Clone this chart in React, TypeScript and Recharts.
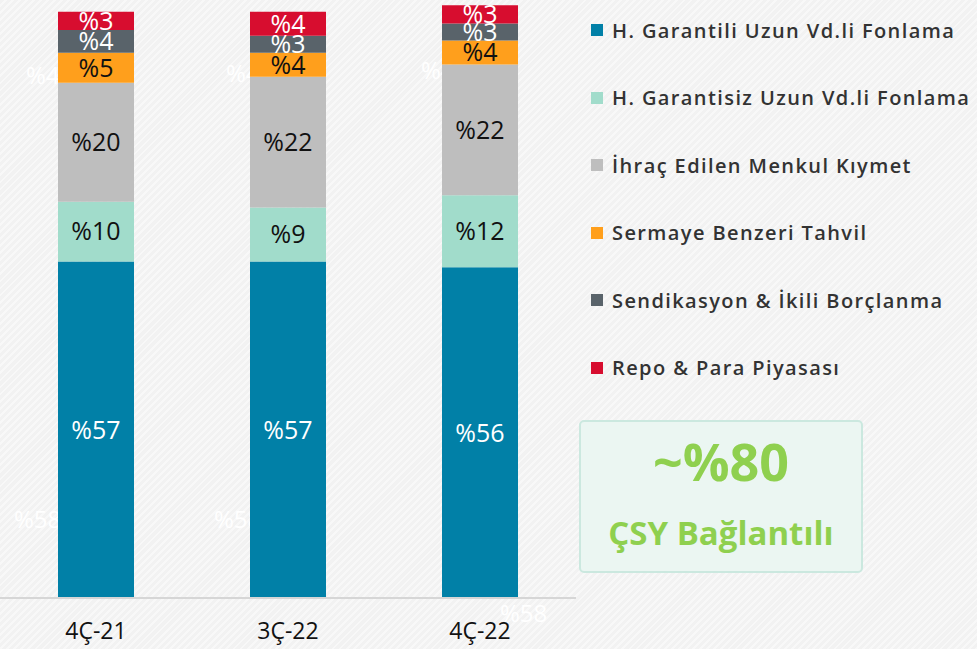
import React from "react";
import { Bar, BarChart, LabelList, XAxis, YAxis } from "recharts";

const quarters = ["4Ç-21", "3Ç-22", "4Ç-22"];

// shares (%)
const garantili = [57.4, 57.4, 56.4];
const garantisiz = [10.2, 9.2, 12.3];
const ihrac = [20.3, 22.3, 22.3];
const sermaye = [5.1, 4.1, 4.1];
const sendikasyon = [3.9, 2.9, 2.9];
const repo = [3.1, 4.1, 3.1];

const seriesNames = [
  "H. Garantili Uzun Vd.li Fonlama",
  "H. Garantisiz Uzun Vd.li Fonlama",
  "İhraç Edilen Menkul Kıymet",
  "Sermaye Benzeri Tahvil",
  "Sendikasyon & İkili Borçlanma",
  "Repo & Para Piyasası",
];
const seriesKeys = ["garantili", "garantisiz", "ihrac", "sermaye", "sendikasyon", "repo"];
const seriesValues = [garantili, garantisiz, ihrac, sermaye, sendikasyon, repo];
const seriesColors = ["#0180a7", "#a1dccb", "#bebebe", "#ff9f1c", "#59636a", "#d70d2f"];
const labelColors = ["#ffffff", "#111111", "#111111", "#111111", "#ffffff", "#ffffff"];

const data = quarters.map((q, i) => {
  const row: Record<string, number | string> = { quarter: q };
  seriesKeys.forEach((k, s) => {
    row[k] = seriesValues[s][i];
  });
  return row;
});

const font = "'Open Sans', 'Noto Sans', sans-serif";
const pct = (v: unknown) => `%${Math.round(Number(v))}`;

// faint ghost labels of a hidden series, sitting behind the bars
const ghostLabels = [
  { text: "%4", left: 26, top: 58 },
  { text: "%4", left: 226, top: 56 },
  { text: "%4", left: 421, top: 53 },
  { text: "%58", left: 14, top: 502 },
  { text: "%58", left: 214, top: 502 },
  { text: "%58", left: 500, top: 596 },
];

export default function App() {
  return (
    <div
      style={{
        position: "absolute",
        left: 0,
        top: 0,
        width: 977,
        height: 649,
        overflow: "hidden",
        fontFamily: font,
        background:
          "repeating-linear-gradient(135deg, #f2f2f2 0px, #f2f2f2 3px, #f8f8f8 3px, #f8f8f8 5px)",
      }}
    >
      {ghostLabels.map((g, i) => (
        <span
          key={i}
          style={{ position: "absolute", left: g.left, top: g.top, fontSize: 24, color: "#ffffff" }}
        >
          {g.text}
        </span>
      ))}

      <div style={{ position: "absolute", left: 0, top: 0 }}>
        <BarChart
          width={977}
          height={649}
          data={data}
          margin={{ top: 0, right: 401, bottom: 11, left: 0 }}
          barSize={76}
        >
          <XAxis
            dataKey="quarter"
            height={40}
            tickLine={false}
            axisLine={{ stroke: "#d6d6d6", strokeWidth: 2 }}
            tickMargin={19}
            tick={{ fontSize: 23, fill: "#111", fontFamily: font }}
          />
          <YAxis hide domain={[0, 102]} />
          {seriesKeys.map((k, s) => (
            <Bar
              key={k}
              dataKey={k}
              name={seriesNames[s]}
              stackId="a"
              fill={seriesColors[s]}
              isAnimationActive={false}
            >
              <LabelList
                dataKey={k}
                position="center"
                formatter={pct}
                fill={labelColors[s]}
                style={{ fontSize: 25, fontFamily: font }}
              />
            </Bar>
          ))}
        </BarChart>
      </div>

      <div style={{ position: "absolute", left: 591, top: 16 }}>
        {seriesNames.map((n, s) => (
          <div
            key={n}
            style={{ display: "flex", alignItems: "center", height: 28, marginBottom: 39.5 }}
          >
            <span
              style={{ width: 12, height: 12, background: seriesColors[s], marginRight: 9 }}
            />
            <span style={{ fontSize: 20, fontWeight: 600, color: "#333", letterSpacing: 1.4 }}>
              {n}
            </span>
          </div>
        ))}
      </div>

      <div
        style={{
          position: "absolute",
          left: 579,
          top: 420,
          width: 280,
          height: 149,
          background: "#ebf6f2",
          border: "2px solid #cbe8df",
          borderRadius: 5,
          color: "#8fd04f",
          fontWeight: 700,
          textAlign: "center",
        }}
      >
        <div style={{ fontSize: 52, lineHeight: "52px", marginTop: 13 }}>~%80</div>
        <div style={{ fontSize: 33, lineHeight: "34px", marginTop: 29 }}>ÇSY Bağlantılı</div>
      </div>
    </div>
  );
}
